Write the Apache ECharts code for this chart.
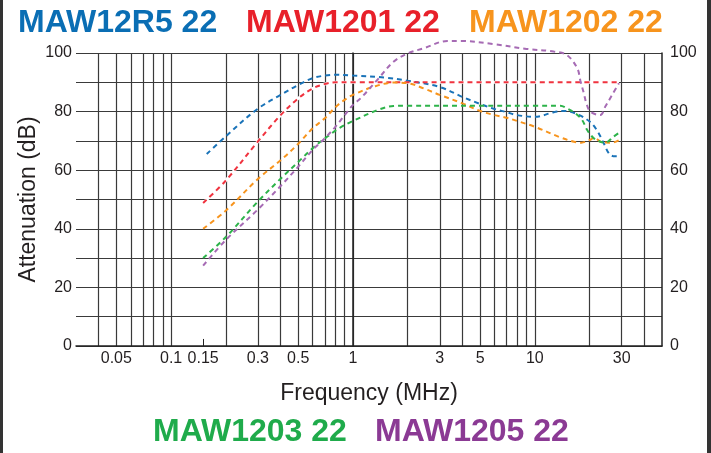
<!DOCTYPE html>
<html>
<head>
<meta charset="utf-8">
<script src="https://cdn.jsdelivr.net/npm/echarts@6/dist/echarts.min.js"></script>
<style>html,body{margin:0;padding:0;background:#fff}#c{width:711px;height:453px}</style>
</head>
<body>
<div id="c"></div>
<script>
// ---- data (frequency in MHz, attenuation in dB) ----
const seriesNames = ['MAW12R5 22', 'MAW1201 22', 'MAW1202 22', 'MAW1203 22', 'MAW1205 22'];

const freq12R5 = [0.157, 0.2, 0.3, 0.4, 0.5, 0.6, 0.7, 0.8, 1, 1.5, 2, 3, 4, 5, 6, 7, 8, 10, 12.7, 14.5, 17, 20, 22, 24, 25.5, 27, 29];
const att12R5  = [65.5, 71.6, 81.0, 85.7, 89.1, 91.4, 92.3, 92.6, 92.3, 91.6, 90.5, 88.4, 85.0, 82.6, 80.9, 79.8, 78.8, 78.2, 79.8, 80.2, 79.2, 76.6, 73.5, 69.0, 65.8, 64.8, 64.8];

const freq1201 = [0.15, 0.2, 0.3, 0.4, 0.5, 0.6, 0.7, 0.8, 1, 2, 5, 10, 20, 29];
const att1201  = [48.8, 56.5, 69.8, 78.8, 84.5, 87.9, 89.4, 90, 90, 90, 90, 90, 90, 90];

const freq1202 = [0.15, 0.2, 0.3, 0.4, 0.5, 0.6, 0.7, 0.8, 0.9, 1, 1.3, 1.67, 2, 2.45, 3, 4, 5, 6, 7, 8, 10, 13.8, 16.4, 18, 20, 21.2, 23.5, 26.6, 29.4];
const att1202  = [40, 46.2, 57.0, 63.4, 69.0, 74.3, 77.7, 81.5, 84.0, 85.7, 88.5, 89.9, 89.7, 87.9, 85.7, 82.8, 80.2, 78.8, 77.9, 76.8, 74.8, 71.2, 69.7, 69.4, 70.3, 71.0, 69.5, 69.4, 70.5];

const freq1203 = [0.15, 0.2, 0.3, 0.4, 0.5, 0.6, 0.72, 0.85, 1, 1.4, 1.67, 2, 5, 10, 13.8, 15, 16.7, 18.2, 19.4, 21, 22.9, 24.4, 27, 29.5];
const att1203  = [30, 37.2, 49.3, 57.1, 62.8, 67.5, 71.4, 74.5, 76.8, 80.8, 81.9, 82, 82, 82, 82, 81.1, 79.4, 77.1, 73.7, 71.0, 69.7, 69.4, 71.4, 73.1];

const freq1205 = [0.15, 0.2, 0.3, 0.4, 0.5, 0.6, 0.7, 0.8, 0.9, 1, 1.1, 1.36, 1.67, 2, 2.45, 3.3, 3.9, 6, 9, 12.7, 15, 17.1, 17.8, 18.6, 19.2, 20.2, 22.9, 24.4, 26.6, 29];
const att1205  = [27.4, 36.2, 46.6, 54.6, 61.2, 66.9, 70.9, 74.8, 78.8, 82.3, 84.5, 90.8, 97.0, 99.9, 101.6, 104.1, 104.1, 103.0, 101.4, 100.5, 99.3, 94.8, 90.5, 86.2, 82.8, 80.0, 78.8, 81.7, 85.7, 89.7];

const gridFreqs  = [0.04, 0.05, 0.06, 0.07, 0.08, 0.09, 0.1, 0.2, 0.3, 0.4, 0.5, 0.6, 0.7, 0.8, 0.9, 1, 2, 3, 4, 5, 6, 7, 8, 9, 10, 20, 30, 40];
const labelFreqs = [0.05, 0.1, 0.15, 0.3, 0.5, 1, 3, 5, 10, 30];
const tickFreqs  = [0.15];
const yTickLabels = [0, 20, 40, 60, 80, 100];
const freqMin = 0.03, freqMax = 50;

const lineColors  = ['#1a73b8', '#f0333f', '#f7941d', '#2db34a', '#a66bb4'];
const titleColors = ['#0a6eb4', '#e8202a', '#f7941d', '#1fab4b', '#8b3a94'];

// ---- build ----
const lg = f => Math.log10(f);
const toData = (fs, as) => fs.map((f, i) => [lg(f), as[i]]);
const fmtFreq = v => String(parseFloat(Math.pow(10, v).toPrecision(6)));

const allFreqs = [freq12R5, freq1201, freq1202, freq1203, freq1205];
const allAtts  = [att12R5, att1201, att1202, att1203, att1205];

const series = [];
// white casing under the red curve (hides the 90 dB grid line along its plateau)
series.push({
  type: 'line', data: toData(freq1201, att1201), smooth: 0.35, symbol: 'none',
  silent: true, clip: false, z: 2,
  lineStyle: { color: '#fff', width: 3, type: 'solid' }
});
allFreqs.forEach((fs, k) => series.push({
  name: seriesNames[k],
  type: 'line',
  data: toData(fs, allAtts[k]),
  smooth: 0.35,
  showSymbol: false,
  symbol: 'none',
  clip: false,
  z: 3 + k,
  lineStyle: { color: lineColors[k], width: 2, type: [5, 4] }
}));
// inward tick at 0.15 MHz
series.push({
  type: 'line', data: [], silent: true,
  markLine: {
    silent: true, symbol: 'none', animation: false,
    label: { show: false },
    lineStyle: { color: '#222', width: 1, type: 'solid' },
    data: tickFreqs.map(f => [{ coord: [lg(f), 0] }, { coord: [lg(f), 2.4] }])
  }
});

const textFont = '"Liberation Sans", Arial, sans-serif';
const titleFont = 'bold 32px "Liberation Sans", Arial, sans-serif';
const titlePos = [[18, 24], [246, 24], [469, 24], [153, 433], [375, 433]];

const chart = echarts.init(document.getElementById('c'), null, { renderer: 'canvas' });
chart.setOption({
  animation: false,
  backgroundColor: '#fff',
  grid: { left: 76, right: 49, top: 53, bottom: 107 },
  xAxis: {
    type: 'value',
    min: lg(freqMin), max: lg(freqMax),
    name: 'Frequency (MHz)', nameLocation: 'middle', nameGap: 36,
    nameMoveOverlap: false,
    nameTextStyle: { fontFamily: textFont, fontSize: 23, color: '#231f20' },
    axisLine: { show: true, lineStyle: { color: '#222', width: 1.5 } },
    axisTick: { show: false, customValues: gridFreqs.map(lg) },
    splitLine: { show: true, lineStyle: { color: '#3a3a3a', width: 1.2 } },
    axisLabel: {
      customValues: labelFreqs.map(lg),
      formatter: fmtFreq,
      fontFamily: textFont, fontSize: 16, color: '#231f20', margin: 5
    }
  },
  yAxis: [{
    type: 'value', min: 0, max: 100, interval: 10, position: 'left',
    name: 'Attenuation (dB)', nameLocation: 'middle', nameGap: 36,
    nameMoveOverlap: false,
    nameTextStyle: { fontFamily: textFont, fontSize: 23, color: '#231f20' },
    axisLine: { show: true, lineStyle: { color: '#222', width: 1.5 } },
    axisTick: { show: false },
    splitLine: { show: true, lineStyle: { color: '#3a3a3a', width: 1.2 } },
    axisLabel: {
      formatter: v => (yTickLabels.indexOf(v) >= 0 ? String(v) : ''),
      fontFamily: textFont, fontSize: 16, color: '#231f20', margin: 4
    }
  }, {
    type: 'value', min: 0, max: 100, interval: 10, position: 'right',
    axisLine: { show: true, lineStyle: { color: '#222', width: 1.5 } },
    axisTick: { show: false },
    splitLine: { show: false },
    axisLabel: {
      formatter: v => (yTickLabels.indexOf(v) >= 0 ? String(v) : ''),
      fontFamily: textFont, fontSize: 16, color: '#231f20', margin: 8
    }
  }],
  series: series,
  graphic: [
    ...seriesNames.map((n, k) => ({
      type: 'text', left: titlePos[k][0], top: titlePos[k][1] - 17,
      style: { text: n, fill: titleColors[k], font: titleFont }
    })),
    { type: 'rect', shape: { x: 0, y: 0, width: 3, height: 453 }, style: { fill: '#333' } },
    { type: 'rect', shape: { x: 707, y: 0, width: 4, height: 453 }, style: { fill: '#333' } }
  ]
});
</script>
</body>
</html>
